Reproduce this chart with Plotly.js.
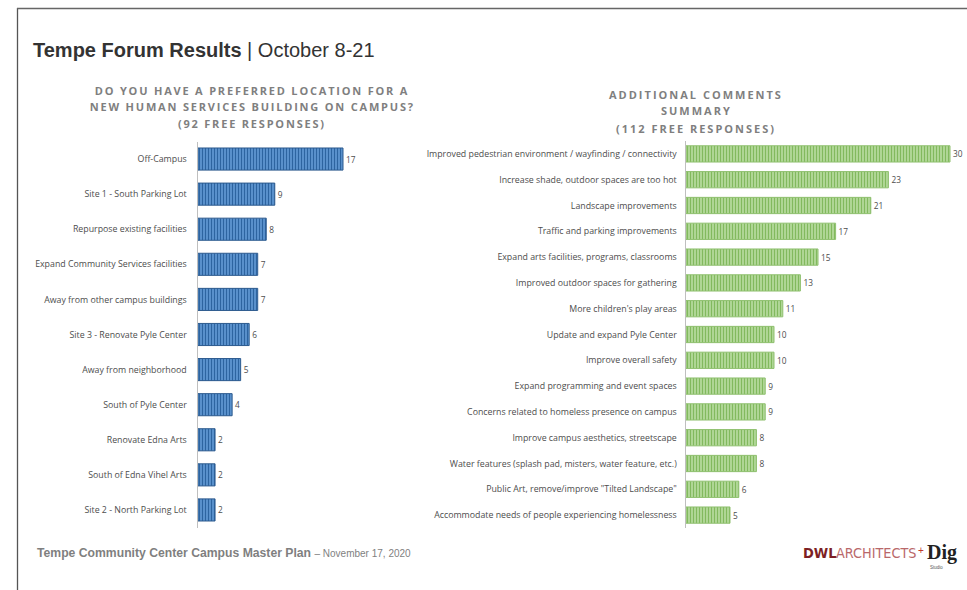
<!DOCTYPE html>
<html>
<head>
<meta charset="utf-8">
<script src="https://cdn.plot.ly/plotly-3.0.1.min.js"></script>
<style>
html,body{margin:0;padding:0;background:#fff;}
#chart{width:967px;height:590px;}
</style>
</head>
<body>
<div id="chart"></div>
<script>
// ---- data ----
const leftCats = [
  "Off-Campus",
  "Site 1 - South Parking Lot",
  "Repurpose existing facilities",
  "Expand Community Services facilities",
  "Away from other campus buildings",
  "Site 3 - Renovate Pyle Center",
  "Away from neighborhood",
  "South of Pyle Center",
  "Renovate Edna Arts",
  "South of Edna Vihel Arts",
  "Site 2 - North Parking Lot"
];
const leftVals = [17, 9, 8, 7, 7, 6, 5, 4, 2, 2, 2];

const rightCats = [
  "Improved pedestrian environment / wayfinding / connectivity",
  "Increase shade, outdoor spaces are too hot",
  "Landscape improvements",
  "Traffic and parking improvements",
  "Expand arts facilities, programs, classrooms",
  "Improved outdoor spaces for gathering",
  "More children's play areas",
  "Update and expand Pyle Center",
  "Improve overall safety",
  "Expand programming and event spaces",
  "Concerns related to homeless presence on campus",
  "Improve campus aesthetics, streetscape",
  "Water features (splash pad, misters, water feature, etc.)",
  "Public Art, remove/improve \"Tilted Landscape\"",
  "Accommodate needs of people experiencing homelessness"
];
const rightVals = [30, 23, 21, 17, 15, 13, 11, 10, 10, 9, 9, 8, 8, 6, 5];

const leftTitle = ["DO YOU HAVE A PREFERRED LOCATION FOR A", "NEW HUMAN SERVICES BUILDING ON CAMPUS?", "(92 FREE RESPONSES)"];
const rightTitle = ["ADDITIONAL COMMENTS", "SUMMARY", "(112 FREE RESPONSES)"];

// ---- layout helpers (pixel -> paper) ----
const W = 967, H = 590;
const px = x => x / W;
const py = y => (H - y) / H;

const labelFont = {family: "Open Sans, Liberation Sans, sans-serif", size: 8.8, color: "#4d4d4d"};

const traces = [
  {
    type: "bar", orientation: "h",
    x: leftVals, y: leftCats,
    xaxis: "x", yaxis: "y",
    text: leftVals.map(String), textposition: "outside", cliponaxis: false,
    textfont: {family: labelFont.family, size: 8.3, color: "#4d4d4d"},
    marker: {
      color: "#5b92cf",
      line: {color: "#2c5a8e", width: 1},
      pattern: {shape: "|", bgcolor: "#6299d4", fgcolor: "#2d64a0", size: 3, solidity: 0.45}
    },
    hoverinfo: "x+y", showlegend: false
  },
  {
    type: "bar", orientation: "h",
    x: rightVals, y: rightCats,
    xaxis: "x2", yaxis: "y2",
    text: rightVals.map(String), textposition: "outside", cliponaxis: false,
    textfont: {family: labelFont.family, size: 8.3, color: "#4d4d4d"},
    marker: {
      color: "#b4d99b",
      line: {color: "#8fc06f", width: 1},
      pattern: {shape: "|", bgcolor: "#b4d99b", fgcolor: "#82b95e", size: 3, solidity: 0.4}
    },
    hoverinfo: "x+y", showlegend: false
  }
];

const annFont = {family: "Open Sans, Liberation Sans, sans-serif", size: 11, color: "#7f7f7f"};
const annotations = [];
const leftY = [90, 106.5, 123];
leftTitle.forEach((t, i) => annotations.push({
  text: "<b>" + t + "</b>", x: px(252), y: py(leftY[i]), xref: "paper", yref: "paper",
  xanchor: "center", yanchor: "middle", showarrow: false, font: annFont
}));
const rightY = [94, 110.5, 128];
rightTitle.forEach((t, i) => annotations.push({
  text: "<b>" + t + "</b>", x: px(696), y: py(rightY[i]), xref: "paper", yref: "paper",
  xanchor: "center", yanchor: "middle", showarrow: false, font: annFont
}));

// main title
annotations.push({
  text: "<b>Tempe Forum Results</b> | October 8-21",
  x: px(31), y: py(50), xref: "paper", yref: "paper", xanchor: "left", yanchor: "middle",
  showarrow: false, font: {family: "Liberation Sans, Arial, sans-serif", size: 20, color: "#333333"}
});
// footer
annotations.push({
  text: "<b>Tempe Community Center Campus Master Plan</b> <span style='font-size:10px'>– November 17, 2020</span>",
  x: px(35), y: py(553), xref: "paper", yref: "paper", xanchor: "left", yanchor: "middle",
  showarrow: false, font: {family: "Liberation Sans, Arial, sans-serif", size: 12.2, color: "#7f7f7f"}
});
// logo
annotations.push({
  text: "<b>DWL</b>",
  x: px(801), y: py(553), xref: "paper", yref: "paper", xanchor: "left", yanchor: "middle",
  showarrow: false, font: {family: "DejaVu Sans Condensed, sans-serif", size: 14.5, color: "#7d1f24"}
});
annotations.push({
  text: "ARCHITECTS",
  x: px(834), y: py(553), xref: "paper", yref: "paper", xanchor: "left", yanchor: "middle",
  showarrow: false, font: {family: "DejaVu Sans Condensed, sans-serif", size: 14.3, color: "#b9686a"}
});
annotations.push({
  text: "+",
  x: px(916), y: py(550), xref: "paper", yref: "paper", xanchor: "left", yanchor: "middle",
  showarrow: false, font: {family: "Liberation Sans, sans-serif", size: 10, color: "#c0392b"}
});
annotations.push({
  text: "<b>Dig</b>",
  x: px(925), y: py(552), xref: "paper", yref: "paper", xanchor: "left", yanchor: "middle",
  showarrow: false, font: {family: "Liberation Serif, serif", size: 20, color: "#222222"}
});
annotations.push({
  text: "Studio",
  x: px(928), y: py(567), xref: "paper", yref: "paper", xanchor: "left", yanchor: "middle",
  showarrow: false, font: {family: "Liberation Sans, sans-serif", size: 4.5, color: "#555555"}
});

const shapes = [
  {type: "line", xref: "paper", yref: "paper", x0: px(17.5), x1: px(17.5), y0: py(8), y1: py(590), line: {color: "#555555", width: 1.3}},
  {type: "line", xref: "paper", yref: "paper", x0: px(17), x1: px(967), y0: py(8.5), y1: py(8.5), line: {color: "#666666", width: 1.6}}
];

const layout = {
  width: W, height: H,
  margin: {l: 0, r: 0, t: 0, b: 0},
  paper_bgcolor: "#ffffff", plot_bgcolor: "rgba(0,0,0,0)",
  showlegend: false,
  bargap: 0.37,
  xaxis: {domain: [px(198), px(198 + 8.53 * 20)], range: [0, 20], visible: false, fixedrange: true},
  yaxis: {
    domain: [py(527.5), py(141.5)], autorange: "reversed", type: "category",
    showline: true, linecolor: "#bfbfbf", linewidth: 1.5, ticks: "", showgrid: false,
    tickfont: labelFont, ticklabelstandoff: 8, anchor: "x"
  },
  xaxis2: {domain: [px(686), px(686 + 8.8 * 31)], range: [0, 31], visible: false, fixedrange: true, anchor: "y2"},
  yaxis2: {
    domain: [py(528), py(141)], autorange: "reversed", type: "category",
    showline: true, linecolor: "#bfbfbf", linewidth: 1.5, ticks: "", showgrid: false,
    tickfont: labelFont, ticklabelstandoff: 6, anchor: "x2"
  },
  annotations: annotations,
  shapes: shapes,
  font: {family: "Open Sans, sans-serif"}
};

Plotly.newPlot("chart", traces, layout, {displayModeBar: false, staticPlot: true}).then(() => {
  // widen letter spacing for the two subtitle blocks
  const groups = document.querySelectorAll(".annotation");
  groups.forEach((g, i) => {
    if (i < 3) {
      const t = g.querySelector("text");
      if (t) t.style.letterSpacing = "1.8px";
    } else if (i < 6) {
      const t = g.querySelector("text");
      if (t) t.style.letterSpacing = "2px";
    }
  });
});
</script>
</body>
</html>
